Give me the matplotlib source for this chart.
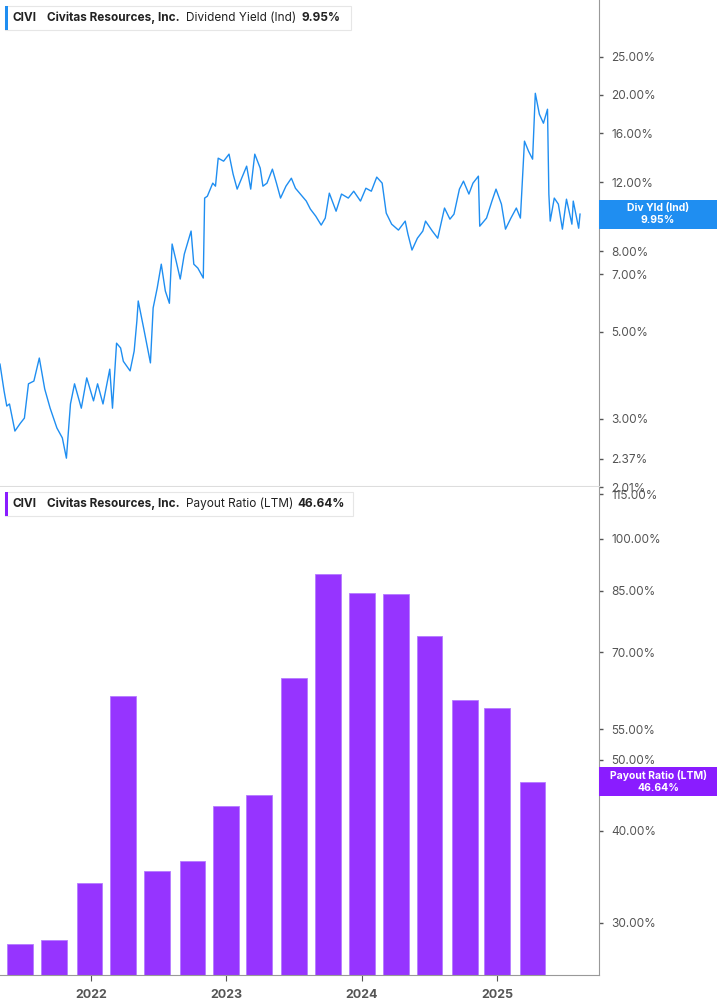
import matplotlib
matplotlib.use("Agg")
import matplotlib.pyplot as plt
from matplotlib.patches import Rectangle
from matplotlib.ticker import FixedLocator, NullLocator

plt.rcParams["font.family"] = "Inter"

W, H = 717, 1005

# Dividend yield (Ind), % — dates as decimal years
yld_dates = [2021.33, 2021.36, 2021.38, 2021.40, 2021.44, 2021.48, 2021.51, 2021.54, 2021.58, 2021.62,
             2021.66, 2021.70, 2021.75, 2021.79, 2021.82, 2021.85, 2021.88, 2021.93, 2021.97, 2022.02,
             2022.05, 2022.09, 2022.14, 2022.16, 2022.19, 2022.22, 2022.24, 2022.29, 2022.32, 2022.34,
             2022.35, 2022.39, 2022.44, 2022.46, 2022.49, 2022.52, 2022.55, 2022.58, 2022.60, 2022.63,
             2022.66, 2022.69, 2022.74, 2022.76, 2022.79, 2022.83, 2022.84, 2022.86, 2022.90, 2022.92,
             2022.94, 2022.98, 2023.02, 2023.05, 2023.08, 2023.11, 2023.15, 2023.18, 2023.21, 2023.25,
             2023.27, 2023.30, 2023.34, 2023.37, 2023.40, 2023.44, 2023.48, 2023.51, 2023.56, 2023.59,
             2023.62, 2023.66, 2023.70, 2023.73, 2023.76, 2023.81, 2023.85, 2023.90, 2023.94, 2023.99,
             2024.03, 2024.07, 2024.11, 2024.15, 2024.18, 2024.22, 2024.27, 2024.32, 2024.34, 2024.37,
             2024.41, 2024.45, 2024.47, 2024.52, 2024.56, 2024.61, 2024.65, 2024.68, 2024.72, 2024.75,
             2024.79, 2024.82, 2024.86, 2024.87, 2024.92, 2024.96, 2024.99, 2025.03, 2025.06, 2025.10,
             2025.14, 2025.17, 2025.20, 2025.23, 2025.26, 2025.28, 2025.31, 2025.34, 2025.37, 2025.38,
             2025.39, 2025.42, 2025.45, 2025.48, 2025.51, 2025.55, 2025.56, 2025.60, 2025.61]
yld_values = [4.13, 3.53, 3.23, 3.27, 2.79, 2.92, 3.01, 3.68, 3.74, 4.28,
              3.57, 3.19, 2.84, 2.68, 2.38, 3.27, 3.68, 3.19, 3.81, 3.33,
              3.68, 3.27, 4.01, 3.19, 4.67, 4.54, 4.20, 3.97, 4.46, 5.32,
              5.98, 5.10, 4.16, 5.74, 6.45, 7.42, 6.34, 5.90, 8.35, 7.55,
              6.80, 7.87, 9.01, 7.42, 7.25, 6.84, 10.93, 11.05, 11.93, 11.72,
              13.81, 13.57, 14.14, 12.58, 11.52, 12.21, 13.18, 11.52, 14.14, 13.03,
              11.72, 11.93, 12.95, 11.93, 10.93, 11.72, 12.28, 11.58, 11.05, 10.74,
              10.25, 9.83, 9.33, 9.72, 11.25, 10.12, 11.19, 10.93, 11.38, 10.74,
              11.58, 11.38, 12.36, 11.93, 10.01, 9.38, 9.06, 9.55, 8.85, 8.06,
              8.64, 9.01, 9.55, 9.01, 8.64, 10.31, 9.66, 9.95, 11.52, 12.07,
              11.19, 11.93, 12.43, 9.27, 9.72, 10.74, 11.52, 10.55, 9.11, 9.72,
              10.31, 9.72, 15.26, 14.39, 13.73, 20.2, 17.87, 16.95, 18.4, 11.19,
              9.55, 10.93, 10.55, 9.11, 10.86, 9.38, 10.74, 9.16, 9.95]

# Payout ratio (LTM), % — quarterly
pay_dates = [2021.48, 2021.73, 2021.99, 2022.24, 2022.49, 2022.75, 2023.00, 2023.24,
             2023.50, 2023.75, 2024.00, 2024.25, 2024.50, 2024.76, 2025.00, 2025.26]
pay_values = [28.1, 28.4, 34.0, 61.0, 35.3, 36.4, 43.2, 44.8,
              64.7, 89.4, 84.4, 84.0, 73.7, 60.3, 58.9, 46.64]

yld_ticks = [2.01, 2.37, 3, 5, 7, 8, 12, 16, 20, 25]
pay_ticks = [30, 40, 50, 55, 70, 85, 100, 115]
year_ticks = [2022, 2023, 2024, 2025]

BLUE = "#1f8ef1"
PURPLE = "#9634ff"
GRAY = "#555555"
AX_RIGHT = 599


def fx(px):
    return px / W


def fy(py):
    return 1 - py / H


fig = plt.figure(figsize=(W / 100, H / 100), dpi=100)
ax1 = fig.add_axes([0, fy(487), fx(AX_RIGHT), 1 - fy(487)])
ax2 = fig.add_axes([0, fy(975), fx(AX_RIGHT), fy(487) - fy(975)])

for ax in (ax1, ax2):
    ax.set_yscale("log")
    ax.set_xlim(2021.33, 2025.75)
    ax.yaxis.tick_right()
    ax.yaxis.set_minor_locator(NullLocator())
    for s in ("top", "left"):
        ax.spines[s].set_visible(False)
    ax.spines["right"].set_color("#999999")
    ax.tick_params(axis="y", which="major", direction="out", length=3, width=1,
                   color=GRAY, labelcolor=GRAY, labelsize=8.5, pad=6)

ax1.plot(yld_dates, yld_values, color=BLUE, lw=1)
ax1.set_ylim(2.01, 34.9)
ax1.yaxis.set_major_locator(FixedLocator(yld_ticks))
ax1.set_yticklabels([f"{t:.2f}%" for t in yld_ticks])
ax1.set_xticks([])
ax1.spines["bottom"].set_color("#dddddd")
ax1.spines["bottom"].set_linewidth(1.5)

ax2.bar(pay_dates, pay_values, width=0.19, color=PURPLE, edgecolor="#b57bff", lw=0.6)
ax2.set_ylim(25.46, 117.6)
ax2.yaxis.set_major_locator(FixedLocator(pay_ticks))
ax2.set_yticklabels([f"{t:.2f}%" for t in pay_ticks])
ax2.set_xticks(year_ticks)
ax2.set_xticklabels([str(y) for y in year_ticks], fontweight="bold")
ax2.spines["bottom"].set_color("#999999")
ax2.tick_params(axis="x", direction="out", length=4, color=GRAY, labelcolor=GRAY,
                labelsize=9, pad=6)


def legend(y0, color, label, value, right):
    fig.add_artist(Rectangle((fx(5), fy(y0 + 24)), fx(right - 5), 24 / H,
                             transform=fig.transFigure, facecolor="white",
                             edgecolor="#e6e6e6", lw=0.8))
    fig.add_artist(Rectangle((fx(5), fy(y0 + 24)), fx(3), 24 / H,
                             transform=fig.transFigure, facecolor=color, lw=0))
    yc = fy(y0 + 12)
    fig.text(fx(13), yc, "CIVI", fontsize=8.5, fontweight="bold", color="#222222", va="center")
    fig.text(fx(47), yc, "Civitas Resources, Inc.", fontsize=8.5, fontweight="bold",
             color="#222222", va="center")
    fig.text(fx(186), yc, label, fontsize=8.5, color="#222222", va="center")
    fig.text(fx(value[1]), yc, value[0], fontsize=8.5, fontweight="bold", color="#222222",
             va="center")


legend(6, BLUE, "Dividend Yield (Ind)", ("9.95%", 302), 351)
legend(492, "#8a1cff", "Payout Ratio (LTM)", ("46.64%", 297), 353)


def value_box(ax, val, color, line1):
    yp = ax.transData.transform((2025, val))[1]
    h = 29
    fig.add_artist(Rectangle((fx(AX_RIGHT), (yp - h / 2) / H), fx(W - AX_RIGHT), h / H,
                             transform=fig.transFigure, facecolor=color, lw=0))
    xc = fx((AX_RIGHT + W) / 2)
    fig.text(xc, (yp + 6) / H, line1, fontsize=7.5, fontweight="bold", color="white",
             ha="center", va="center")
    fig.text(xc, (yp - 6) / H, f"{val:.2f}%", fontsize=7.5, fontweight="bold", color="white",
             ha="center", va="center")


value_box(ax1, yld_values[-1], BLUE, "Div Yld (Ind)")
value_box(ax2, pay_values[-1], "#8a1cff", "Payout Ratio (LTM)")

fig.savefig("out.png", dpi=100)
